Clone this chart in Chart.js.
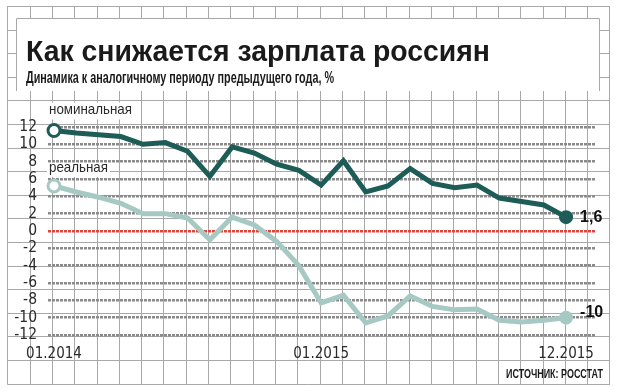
<!DOCTYPE html>
<html><head><meta charset="utf-8">
<script src="https://cdn.jsdelivr.net/npm/chart.js@4.4.1/dist/chart.umd.min.js"></script>
<style>html,body{margin:0;padding:0;background:#fff}canvas{display:block}</style>
</head><body>
<div style="width:617px;height:392px;position:relative"><canvas id="c" width="617" height="392"></canvas></div>
<script>
// ---- data ----
const months = ['01.2014','02.2014','03.2014','04.2014','05.2014','06.2014','07.2014','08.2014','09.2014','10.2014','11.2014','12.2014',
                '01.2015','02.2015','03.2015','04.2015','05.2015','06.2015','07.2015','08.2015','09.2015','10.2015','11.2015','12.2015'];
const nominal = [11.6, 11.3, 11.1, 10.9, 10.0, 10.2, 9.2, 6.3, 9.7, 9.0, 7.7, 7.0,
                 5.3, 8.1, 4.5, 5.2, 7.2, 5.5, 5.0, 5.3, 3.8, 3.4, 3.0, 1.6];
const real    = [5.2, 4.5, 3.9, 3.2, 2.0, 2.0, 1.5, -1.0, 1.6, 0.7, -1.2, -4.0,
                 -8.3, -7.4, -10.6, -9.8, -7.5, -8.7, -9.1, -9.0, -10.3, -10.5, -10.3, -10.0];
const seriesNames = ['номинальная', 'реальная'];
const endLabels = ['1,6', '-10'];
const yTickValues = [12, 10, 8, 6, 4, 2, 0, -2, -4, -6, -8, -10, -12];
const xTickIndex = [0, 12, 23];
const xTickLabels = ['01.2014', '01.2015', '12.2015'];
const titleText = 'Как снижается зарплата россиян';
const subtitleText = 'Динамика к аналогичному периоду предыдущего года, %';
const sourceText = 'ИСТОЧНИК: РОССТАТ';

const NOM_COLOR = '#1d5c57';
const REAL_COLOR = '#a6c9c3';
const PAPER = '#a8a8a8';
const NARROW = '"Liberation Sans Narrow", "DejaVu Sans Condensed", "Liberation Sans", sans-serif';

function drawFit(ctx, text, x, y, font, targetW, color, align) {
  ctx.save();
  ctx.font = font;
  ctx.fillStyle = color;
  ctx.textBaseline = 'alphabetic';
  ctx.textAlign = 'left';
  const w = ctx.measureText(text).width;
  const s = targetW ? targetW / w : 1;
  const realW = w * s;
  const x0 = align === 'right' ? x - realW : x;
  ctx.translate(x0, y);
  ctx.scale(s, 1);
  ctx.fillText(text, 0, 0);
  ctx.restore();
  return realW;
}

const paperPlugin = {
  id: 'paper',
  beforeDraw(chart) {
    const ctx = chart.ctx;
    ctx.save();
    ctx.fillStyle = '#fff';
    ctx.fillRect(0, 0, chart.width, chart.height);
    // graph paper
    ctx.strokeStyle = PAPER;
    ctx.lineWidth = 1;
    ctx.beginPath();
    for (let k = 0; k <= 27; k++) {
      const x = Math.round(7.3 + 22.3 * k) + 0.5;
      ctx.moveTo(x, 6); ctx.lineTo(x, 384.5);
    }
    for (let k = 0; k <= 16; k++) {
      const y = Math.round(6 + 23.6 * k) + 0.5;
      ctx.moveTo(7.5, y); ctx.lineTo(610, y);
    }
    ctx.stroke();
    // white title panel
    ctx.fillStyle = '#fff';
    ctx.fillRect(17, 18, 583, 73);
    ctx.beginPath();
    ctx.moveTo(16.5, 91); ctx.lineTo(16.5, 18.5); ctx.lineTo(599.5, 18.5); ctx.lineTo(599.5, 91);
    ctx.stroke();
    ctx.restore();

    drawFit(ctx, titleText, 26, 61, 'bold 30px "Liberation Sans", Arial, sans-serif', 464, '#1a1a1a');
    drawFit(ctx, subtitleText, 26, 83, 'bold 16.5px "Liberation Sans", Arial, sans-serif', 308, '#1a1a1a');
    drawFit(ctx, sourceText, 603, 378, 'bold 13px "Liberation Sans", Arial, sans-serif', 97, '#1a1a1a', 'right');

    // series name labels with white knockout
    const xs = chart.scales.x, ys = chart.scales.y;
    const labelSpec = [
      { text: seriesNames[0], first: nominal[0], w: 83, dy: -16 },
      { text: seriesNames[1], first: real[0], w: 59, dy: -14 }
    ];
    labelSpec.forEach(l => {
      const px = xs.getPixelForValue(0) - 5;
      const py = ys.getPixelForValue(l.first) + l.dy;
      ctx.save();
      ctx.fillStyle = '#fff';
      ctx.fillRect(px - 2, py - 12, l.w + 4, 17);
      ctx.restore();
      drawFit(ctx, l.text, px, py, '15px "Liberation Sans", Arial, sans-serif', l.w, '#2a2a2a');
    });
  },
  afterDatasetsDraw(chart) {
    const ctx = chart.ctx;
    [0, 1].forEach(i => {
      const meta = chart.getDatasetMeta(i);
      const pt = meta.data[meta.data.length - 1];
      ctx.save();
      ctx.font = 'bold 16px "Liberation Sans", Arial, sans-serif';
      ctx.fillStyle = '#111';
      ctx.textBaseline = 'middle';
      ctx.textAlign = 'left';
      ctx.fillText(endLabels[i], pt.x + 14, pt.y + (i === 1 ? -5 : 0));
      ctx.restore();
    });
  }
};

function pts(arr) { return arr.map((v, i) => ({ x: i, y: v })); }
const last = months.length - 1;
function ds(label, arr, color) {
  return {
    label, data: pts(arr), borderColor: color, borderWidth: 5, tension: 0,
    borderJoinStyle: 'miter', borderCapStyle: 'butt',
    pointRadius: c => c.dataIndex === 0 ? 6 : (c.dataIndex === last ? 7 : 0),
    pointBorderWidth: c => c.dataIndex === 0 ? 3 : 0,
    pointBackgroundColor: c => c.dataIndex === 0 ? '#fff' : color,
    pointBorderColor: color,
    clip: false
  };
}

new Chart(document.getElementById('c'), {
  type: 'line',
  data: { datasets: [ds(seriesNames[0], nominal, NOM_COLOR), ds(seriesNames[1], real, REAL_COLOR)] },
  options: {
    responsive: false, animation: false, devicePixelRatio: 1,
    layout: { padding: { left: 0, top: 127, right: 22, bottom: 0 } },
    plugins: { legend: { display: false }, tooltip: { enabled: false } },
    scales: {
      x: {
        type: 'linear', min: -0.27, max: 24.3,
        afterBuildTicks: s => { s.ticks = xTickIndex.map(v => ({ value: v })); },
        afterFit: s => { s.height = 57; },
        ticks: { callback: (v) => xTickLabels[xTickIndex.indexOf(v)], autoSkip: false, maxRotation: 0,
                 padding: 2, color: '#2a2a2a', font: { family: NARROW, size: 15 } },
        grid: { display: false }, border: { display: false }
      },
      y: {
        min: -12, max: 12,
        afterBuildTicks: s => { s.ticks = yTickValues.map(v => ({ value: v })); },
        afterFit: s => { s.width = 48; },
        ticks: { callback: v => String(v), autoSkip: false, padding: 11, color: '#2a2a2a',
                 font: { family: NARROW, size: 15.5 } },
        grid: { drawTicks: false, lineWidth: 2.5,
                color: c => c.tick && c.tick.value === 0 ? '#d9473d' : '#8a8a8a' },
        border: { display: false, dash: [3, 1] }
      }
    }
  },
  plugins: [paperPlugin]
});
</script>
</body></html>
